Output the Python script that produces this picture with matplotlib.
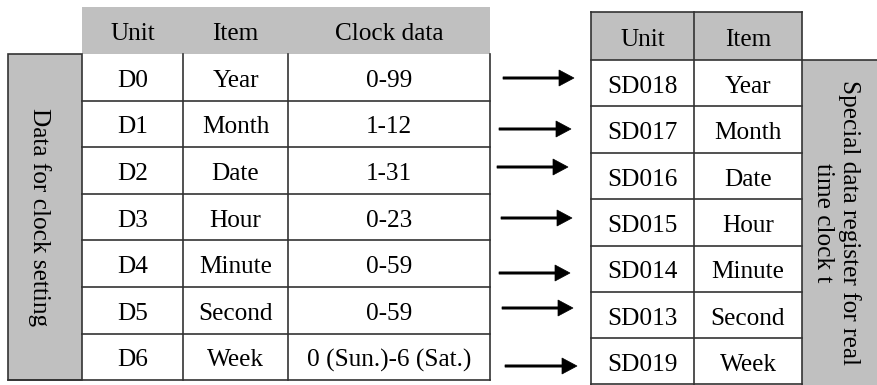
import matplotlib
matplotlib.use('Agg')
import matplotlib.pyplot as plt
from matplotlib.patches import Rectangle

plt.rcParams['font.family'] = ['Liberation Serif', 'DejaVu Serif']

# table contents
left_header = ['Unit', 'Item', 'Clock data']
left_units = ['D0', 'D1', 'D2', 'D3', 'D4', 'D5', 'D6']
items = ['Year', 'Month', 'Date', 'Hour', 'Minute', 'Second', 'Week']
clock_data = ['0-99', '1-12', '1-31', '0-23', '0-59', '0-59', '0 (Sun.)-6 (Sat.)']
right_header = ['Unit', 'Item']
right_units = ['SD018', 'SD017', 'SD016', 'SD015', 'SD014', 'SD013', 'SD019']
left_label = 'Data for clock setting'
right_label = ['Special data register for real', 'time clock t']

# layout (pixels)
GRAY = '#c0c0c0'
LC = '#333333'
LW = 1.2
FS = 18.2
DY = 9.5  # baseline offset below cell centre
left_cols = [82, 183, 288, 490]
left_top, left_head, left_row = 7, 54, 46.6
right_cols = [591, 694, 802]
right_top, right_head, right_row = 12, 60, 46.4
arrow_x = [(503, 574), (499, 571), (497, 568), (501, 572), (499, 570), (502, 573), (505, 577)]
arrow_y = [78, 129, 167, 218, 273, 308, 366]


def cell_text(x, y, s):
    ax.text(x, y + DY, s, ha='center', va='baseline', fontsize=FS)


fig = plt.figure(figsize=(8.78, 3.85), dpi=100)
ax = fig.add_axes([0, 0, 1, 1])
ax.set_xlim(0, 878)
ax.set_ylim(385, 0)
ax.axis('off')

n = len(left_units)
#%% left table
lbot = left_head + n * left_row
ax.add_patch(Rectangle((left_cols[0], left_top), left_cols[-1] - left_cols[0],
                       left_head - left_top, fc=GRAY, ec='none'))
ax.add_patch(Rectangle((8, left_head), left_cols[0] - 8, lbot - left_head,
                       fc=GRAY, ec=LC, lw=LW))
ax.text(33, (left_head + lbot) / 2, left_label, rotation=-90, ha='center',
        va='baseline', fontsize=FS, rotation_mode='anchor')
for j in range(3):
    cell_text((left_cols[j] + left_cols[j + 1]) / 2, (left_top + left_head) / 2, left_header[j])
for i in range(n):
    cy = left_head + (i + 0.5) * left_row
    for j, txt in enumerate([left_units[i], items[i], clock_data[i]]):
        cell_text((left_cols[j] + left_cols[j + 1]) / 2, cy, txt)
    if i > 0:
        ax.plot([left_cols[0], left_cols[-1]], [left_head + i * left_row] * 2, color=LC, lw=LW)
ax.plot([8, left_cols[-1]], [lbot, lbot], color=LC, lw=LW)
for x in left_cols[1:]:
    ax.plot([x, x], [left_head, lbot], color=LC, lw=LW)

#%% right table
rbot = right_head + n * right_row
ax.add_patch(Rectangle((right_cols[0], right_top), right_cols[-1] - right_cols[0],
                       right_head - right_top, fc=GRAY, ec='none'))
ax.add_patch(Rectangle((right_cols[-1], right_head), 878 - right_cols[-1], rbot - right_head,
                       fc=GRAY, ec='none'))
for bx, line in zip([843, 817], right_label):
    ax.text(bx, (right_head + rbot) / 2, line, rotation=-90, ha='center',
            va='baseline', fontsize=FS, rotation_mode='anchor')
for j in range(2):
    cell_text((right_cols[j] + right_cols[j + 1]) / 2, (right_top + right_head) / 2, right_header[j])
for i in range(n):
    cy = right_head + (i + 0.5) * right_row
    for j, txt in enumerate([right_units[i], items[i]]):
        cell_text((right_cols[j] + right_cols[j + 1]) / 2, cy, txt)
    if i > 0:
        ax.plot([right_cols[0], right_cols[-1]], [right_head + i * right_row] * 2, color=LC, lw=LW)
ax.plot([right_cols[0], right_cols[-1]], [right_top] * 2, color=LC, lw=LW)
ax.plot([right_cols[0], 878], [right_head] * 2, color=LC, lw=LW)
ax.plot([right_cols[0], right_cols[-1]], [rbot - 1] * 2, color=LC, lw=LW)
for x in right_cols:
    ax.plot([x, x], [right_top, rbot], color=LC, lw=LW)

#%% arrows
for (x0, x1), y in zip(arrow_x, arrow_y):
    ax.arrow(x0, y, x1 - x0, 0, width=2.2, head_width=16, head_length=15,
             length_includes_head=True, fc='black', ec='black', lw=0.5)

fig.savefig('out.png', dpi=100)
